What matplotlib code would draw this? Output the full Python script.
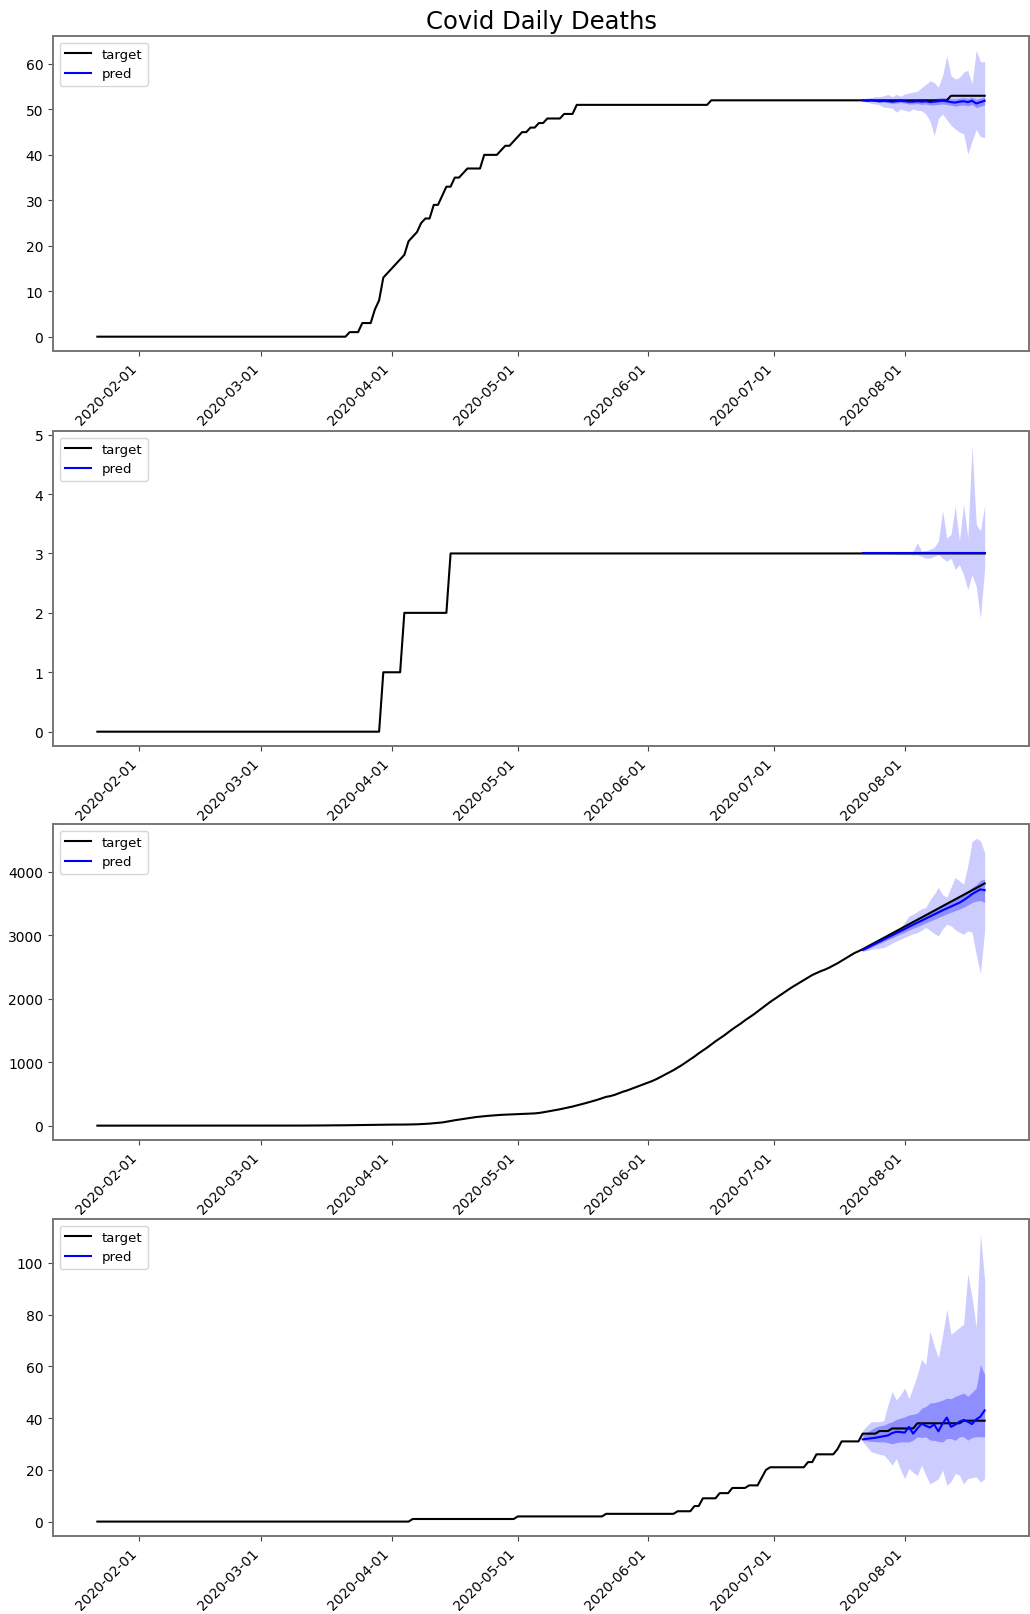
import matplotlib
matplotlib.use("Agg")
import matplotlib.pyplot as plt
import matplotlib.dates as mdates
import pandas as pd

# daily dates 2020-01-22 .. 2020-08-20, forecast covers the last 30 days
dates = pd.date_range("2020-01-22", "2020-08-20", freq="D")
n_pred = 30

# --- series 1 ---
target1 = ([0] * 60
           + [1, 1, 1, 3, 3, 3, 6, 8, 13, 14,
              15, 16, 17, 18, 21, 22, 23, 25, 26, 26,
              29, 29, 31, 33, 33, 35, 35, 36, 37, 37,
              37, 37, 40, 40, 40, 40, 41, 42, 42, 43,
              44, 45, 45, 46, 46, 47, 47, 48, 48, 48,
              48, 49, 49, 49]
           + [51] * 32 + [52] * 57 + [53] * 9)
pred1 = [52.0, 51.9, 52.0, 51.9, 51.8, 51.9, 51.8, 51.7, 51.8, 51.9,
         51.8, 51.7, 51.7, 51.8, 51.7, 51.8, 51.6, 51.7, 51.8, 51.9,
         51.8, 51.6, 51.5, 51.7, 51.8, 51.6, 51.9, 51.3, 51.6, 51.9]
hi90_1 = [52.3, 52.5, 52.6, 52.8, 52.8, 53.0, 53.3, 52.8, 53.3, 52.9,
          53.4, 53.6, 53.8, 54.0, 54.8, 55.5, 56.3, 55.9, 54.9, 57.5,
          61.8, 57.4, 56.7, 57.0, 58.2, 58.6, 55.6, 63.0, 60.5, 60.5]
lo90_1 = [51.8, 51.6, 51.3, 51.2, 51.0, 50.5, 50.4, 50.3, 49.4, 50.1,
          49.8, 49.6, 50.1, 49.8, 49.7, 49.0, 47.5, 44.2, 48.0, 49.0,
          47.7, 46.5, 45.7, 45.0, 44.6, 40.2, 43.0, 45.6, 44.0, 43.8]
hi50_1 = [52.1, 52.1, 52.2, 52.1, 52.1, 52.2, 52.1, 52.1, 52.2, 52.3,
          52.2, 52.2, 52.2, 52.3, 52.3, 52.4, 52.2, 52.4, 52.5, 52.6,
          52.5, 52.3, 52.3, 52.5, 52.6, 52.4, 52.7, 52.2, 52.5, 52.8]
lo50_1 = [51.9, 51.7, 51.8, 51.7, 51.5, 51.6, 51.5, 51.3, 51.4, 51.5,
          51.4, 51.2, 51.2, 51.3, 51.1, 51.2, 51.0, 51.0, 51.1, 51.2,
          51.1, 50.9, 50.7, 50.9, 51.0, 50.8, 51.1, 50.4, 50.7, 51.0]

# --- series 2 ---
target2 = [0] * 68 + [1] * 5 + [2] * 11 + [3] * 128
pred2 = [3.0] * 30
hi90_2 = [3.01, 3.01, 3.01, 3.01, 3.01, 3.01, 3.01, 3.02, 3.02, 3.02,
          3.03, 3.03, 3.04, 3.18, 3.04, 3.05, 3.07, 3.10, 3.21, 3.72,
          3.26, 3.32, 3.80, 3.21, 3.83, 3.26, 4.82, 3.49, 3.38, 3.80]
lo90_2 = [2.99, 2.99, 2.99, 2.99, 2.99, 2.99, 2.99, 2.99, 2.98, 2.98,
          2.98, 2.98, 2.97, 2.98, 2.95, 2.92, 2.92, 2.95, 2.98, 2.92,
          2.87, 2.92, 2.73, 2.81, 2.64, 2.39, 2.64, 2.45, 1.91, 2.75]
hi50_2 = [3.0] * 30
lo50_2 = [3.0] * 30

# --- series 3 ---
target3 = ([0] * 46
           + [1, 1, 1, 1,
              2, 2, 2, 3, 3, 4, 4, 5, 5, 6,
              7, 8, 9, 10, 11, 12, 13, 14, 15, 15,
              16, 16, 17, 17, 18, 19, 21, 24, 28, 32,
              38, 44, 50, 62, 75, 85, 95, 105, 115, 124,
              135, 142, 150, 155, 160, 165, 170, 173, 176, 178,
              181, 184, 187, 190, 193, 200, 210, 222, 233, 245,
              258, 272, 286, 301, 318, 335, 353, 371, 390, 410,
              432, 454, 466, 485, 510, 535, 555, 580, 605, 630,
              655, 680, 705, 735, 770, 805, 840, 875, 914, 955,
              1000, 1045, 1090, 1140, 1185, 1230, 1280, 1330, 1375, 1420,
              1470, 1520, 1565, 1610, 1660, 1705, 1750, 1800, 1850, 1900,
              1950, 1995, 2040, 2085, 2130, 2175, 2215, 2255, 2295, 2335,
              2375, 2405, 2435, 2460, 2490, 2525, 2560, 2600, 2640, 2680,
              2720, 2750, 2782, 2818, 2853, 2889, 2925, 2960, 2996, 3032,
              3068, 3103, 3139, 3175, 3211, 3246, 3282, 3318, 3354, 3389,
              3425, 3461, 3497, 3532, 3568, 3604, 3640, 3675, 3711, 3747,
              3783, 3819])
pred3 = [2770, 2800, 2835, 2868, 2900, 2935, 2968, 3000, 3035, 3068,
         3100, 3135, 3168, 3200, 3232, 3265, 3298, 3330, 3362, 3395,
         3425, 3455, 3485, 3515, 3555, 3600, 3650, 3690, 3725, 3713]
hi90_3 = [2790, 2815, 2845, 2870, 2895, 2930, 2975, 3020, 3070, 3124,
          3210, 3308, 3330, 3380, 3420, 3440, 3560, 3650, 3756, 3640,
          3600, 3760, 3914, 3860, 3809, 4100, 4480, 4530, 4492, 4308]
lo90_3 = [2750, 2760, 2775, 2790, 2800, 2808, 2840, 2880, 2910, 2940,
          2970, 3000, 3025, 3045, 3080, 3124, 3080, 3030, 2993, 3100,
          3177, 3150, 3090, 3050, 3019, 3072, 3050, 2700, 2400, 3072]
hi50_3 = [2785, 2818, 2855, 2890, 2925, 2962, 2998, 3033, 3070, 3106,
          3142, 3180, 3215, 3250, 3285, 3322, 3358, 3395, 3430, 3468,
          3502, 3536, 3570, 3605, 3650, 3700, 3755, 3800, 3870, 3887]
lo50_3 = [2755, 2780, 2812, 2842, 2872, 2903, 2933, 2962, 2993, 3023,
          3052, 3083, 3112, 3140, 3168, 3198, 3226, 3255, 3283, 3311,
          3338, 3365, 3390, 3415, 3445, 3480, 3520, 3540, 3550, 3519]

# --- series 4 ---
target4 = ([0] * 75 + [1] * 25 + [2] * 21 + [3] * 17 + [4] * 4 + [6] * 2
           + [9] * 4 + [11] * 3 + [13] * 4 + [14] * 3 + [17, 20] + [21] * 9
           + [23] * 2 + [26] * 5 + [28] + [31] * 5 + [34] * 4 + [35] * 3
           + [36] * 6 + [38] * 11 + [39] * 6)
pred4 = [31.8, 32.0, 32.2, 32.4, 32.7, 33.0, 33.3, 34.2, 34.7, 34.6,
         34.4, 36.6, 34.0, 36.0, 37.9, 37.0, 36.4, 37.6, 34.9, 37.9,
         40.2, 36.6, 37.5, 38.6, 39.3, 38.6, 37.7, 39.5, 40.6, 43.0]
hi90_4 = [35.3, 37.0, 38.6, 38.6, 38.6, 39.0, 45.0, 50.3, 47.0, 49.0,
          51.6, 47.6, 52.0, 56.8, 62.7, 60.7, 73.7, 68.0, 63.3, 72.0,
          82.2, 72.4, 73.7, 75.0, 76.3, 95.8, 86.7, 75.0, 111.4, 93.2]
lo90_4 = [30.8, 29.0, 27.0, 26.5, 26.0, 25.7, 24.0, 21.8, 24.4, 20.0,
          16.6, 20.5, 19.0, 17.9, 21.8, 18.0, 14.6, 15.5, 16.6, 19.9,
          14.0, 15.5, 18.6, 17.9, 14.6, 16.6, 17.0, 17.3, 15.3, 16.6]
hi50_4 = [33.4, 34.5, 35.5, 36.5, 37.0, 37.3, 38.0, 38.6, 39.5, 40.0,
          40.5, 41.2, 41.5, 41.9, 43.8, 44.5, 45.8, 46.0, 46.4, 47.0,
          47.7, 47.5, 48.4, 49.0, 49.7, 48.4, 50.0, 51.6, 60.7, 56.8]
lo50_4 = [31.4, 31.2, 31.0, 30.9, 30.8, 30.8, 30.5, 30.1, 30.5, 30.8,
          30.8, 30.8, 31.5, 32.8, 32.5, 32.8, 31.5, 31.4, 31.0, 30.8,
          32.1, 32.1, 31.4, 32.8, 32.8, 31.5, 32.5, 32.8, 32.8, 32.8]

series = [
    (target1, pred1, lo90_1, hi90_1, lo50_1, hi50_1),
    (target2, pred2, lo90_2, hi90_2, lo50_2, hi50_2),
    (target3, pred3, lo90_3, hi90_3, lo50_3, hi50_3),
    (target4, pred4, lo90_4, hi90_4, lo50_4, hi50_4),
]

W, H = 1030, 1615
fig = plt.figure(figsize=(W / 100, H / 100), dpi=100)
pred_dates = dates[-n_pred:]

# panel boxes in pixels: (top, bottom)
boxes = [(37, 352), (432, 747), (825, 1141), (1220, 1537)]
left_px, right_px = 53, 1029

for i, (tgt, pr, lo90, hi90, lo50, hi50) in enumerate(series):
    top, bot = boxes[i]
    ax = fig.add_axes([left_px / W, 1 - bot / H, (right_px - left_px) / W, (bot - top) / H])
    ax.plot(dates, tgt, color="black", lw=1.5, label="target")
    ax.fill_between(pred_dates, lo90, hi90, color="blue", alpha=0.2, lw=0)
    ax.fill_between(pred_dates, lo50, hi50, color="blue", alpha=0.3, lw=0)
    ax.plot(pred_dates, pr, color="blue", lw=1.5, label="pred")
    ax.legend(loc="upper left", fontsize=9.5)

    ax.xaxis.set_major_locator(mdates.MonthLocator())
    ax.xaxis.set_major_formatter(mdates.DateFormatter("%Y-%m-%d"))
    plt.setp(ax.get_xticklabels(), rotation=45, ha="right")
    for sp in ax.spines.values():
        sp.set_color("#767676")
        sp.set_linewidth(1.4)
    ax.tick_params(colors="#444444", labelcolor="black", labelsize=10)
    if i == 0:
        ax.set_title("Covid Daily Deaths", fontsize=17.5)

fig.savefig("out.png", dpi=100)
